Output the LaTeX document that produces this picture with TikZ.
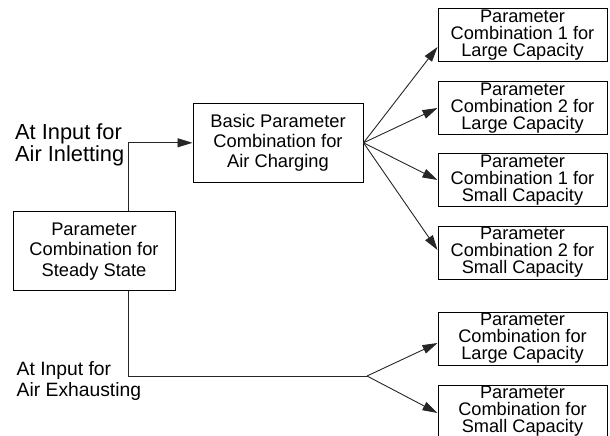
\documentclass[tikz,border=0pt]{standalone}
\usepackage{fontspec}
\setmainfont{Liberation Sans}
\usetikzlibrary{arrows.meta}
\newcommand\mytightlines{\lineskiplimit -20pt\relax}
\begin{document}
\begin{tikzpicture}[x=1pt,y=-1pt,
  box/.style={draw=black, line width=1pt, inner sep=0pt, align=center,
    font={\fontsize{18.3}{20.4}\selectfont\mytightlines}},
  rbox/.style={box, minimum width=169pt, minimum height=53pt,
    font={\fontsize{18.2}{17}\selectfont\mytightlines}},
  conn/.style={draw=black!85, line width=0.9pt},
  arr/.style={conn, -{Triangle[length=15pt,width=9pt]}},
  lbl/.style={inner sep=0pt, align=left, anchor=north west}]
\useasboundingbox (0,0) rectangle (610,436);
% boxes
\node[box, minimum width=162pt, minimum height=79pt] (steady) at (94,251.3)
  {Parameter\\Combination for\\Steady State};
\node[box, minimum width=170pt, minimum height=79pt] (basic) at (278,142.8)
  {Basic Parameter\\Combination for\\Air Charging};
\node[rbox] (l1) at (522.5,35.5) {Parameter\\Combination 1 for\\Large Capacity};
\node[rbox] (l2) at (522.5,108) {Parameter\\Combination 2 for\\Large Capacity};
\node[rbox] (s1) at (522.5,180) {Parameter\\Combination 1 for\\Small Capacity};
\node[rbox] (s2) at (522.5,252.5) {Parameter\\Combination 2 for\\Small Capacity};
\node[rbox] (el) at (522.5,338.5) {Parameter\\Combination for\\Large Capacity};
\node[rbox] (es) at (522.5,411.5) {Parameter\\Combination for\\Small Capacity};
% labels
\node[lbl, font={\fontsize{21.8}{22.4}\selectfont\mytightlines}] (inlab) at (15,123.6) {At Input for\\Air Inletting};
\node[lbl, font={\fontsize{19.3}{21.7}\selectfont\mytightlines}] (exlab) at (16.5,361.1) {At Input for\\Air Exhausting};
% connectors
\draw[arr] ([xshift=34pt]steady.north) |- (basic.west);
\draw[arr] (basic.east) -- ([yshift=-11.5pt]l1.west);
\draw[arr] (basic.east) -- (l2.west);
\draw[arr] (basic.east) -- (s1.west);
\draw[arr] (basic.east) -- ([yshift=2.5pt]s2.west);
\coordinate (fork) at (367,376);
\draw[conn] ([xshift=34pt]steady.south) |- (fork);
\draw[arr] (fork) -- ([yshift=-4.5pt]el.west);
\draw[arr] (fork) -- ([yshift=-1.5pt]es.west);
\end{tikzpicture}
\end{document}
